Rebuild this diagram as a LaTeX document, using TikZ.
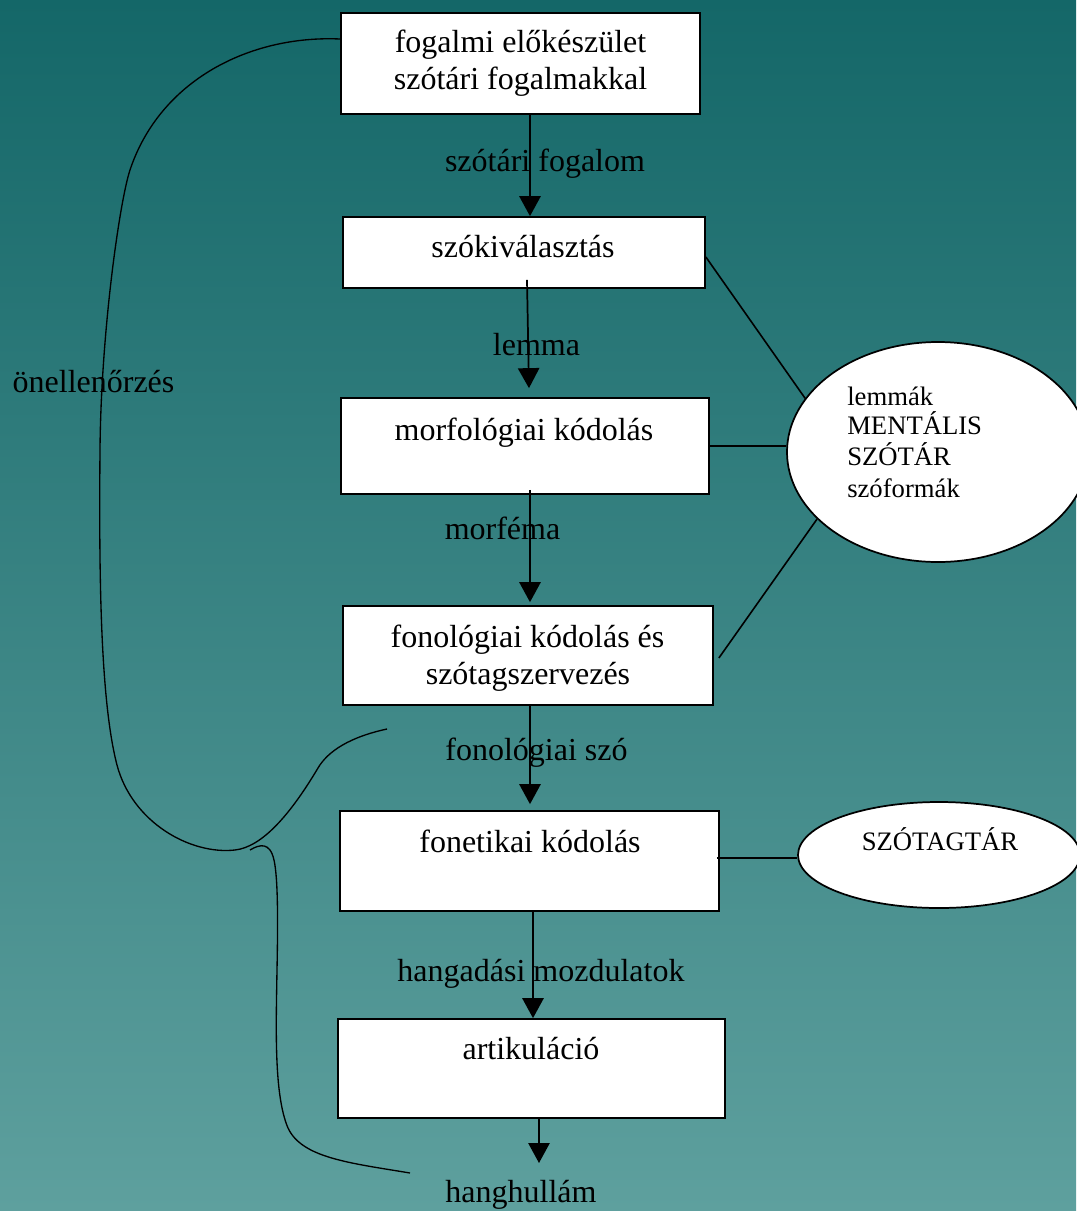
\documentclass[tikz,border=0pt]{standalone}
\usepackage{fontspec}
\setmainfont{Liberation Serif}
\usetikzlibrary{shapes.geometric,arrows.meta,calc}
\definecolor{bgtop}{RGB}{20,103,104}
\definecolor{bgbot}{RGB}{94,160,158}
\begin{document}
\begin{tikzpicture}[x=0.75pt,y=-0.75pt,
  stage/.style={draw=black, line width=1.3pt, fill=white, inner sep=0pt},
  store/.style={ellipse, draw=black, line width=1.3pt, fill=white, inner sep=0pt},
  lbl/.style={anchor=base, inner sep=0pt, font=\fontsize{24}{27.75}\selectfont},
  lexlbl/.style={anchor=base west, inner sep=0pt, font=\fontsize{20}{23}\selectfont},
  flow/.style={line width=1.3pt, -{Triangle[width=16pt,length=15pt]}},
  link/.style={line width=1.2pt},
  monitor/.style={line width=1pt, line join=round}
]
\useasboundingbox (0,0) rectangle (1076,1211);
\shade[top color=bgtop, bottom color=bgbot] (0,0) rectangle (1076,1211);

% processing stages
\node[stage, minimum width=269.25pt, minimum height=75.75pt] (b1) at (520.5,63.5) {};
\node[stage, minimum width=271.5pt, minimum height=53.25pt] (b2) at (524,252.5) {};
\node[stage, minimum width=276pt, minimum height=72pt] (b3) at (525,446) {};
\node[stage, minimum width=277.5pt, minimum height=74.25pt] (b4) at (528,655.5) {};
\node[stage, minimum width=284.25pt, minimum height=75pt] (b5) at (529.5,861) {};
\node[stage, minimum width=290.25pt, minimum height=74.25pt] (b6) at (531.5,1068.5) {};

\node[lbl] (t1a) at (520.5,52) {fogalmi előkészület};
\node[lbl] (t1b) at (520.5,89) {szótári fogalmakkal};
\node[lbl] (t2) at (523,257) {szókiválasztás};
\node[lbl] (t3) at (524,440) {morfológiai kódolás};
\node[lbl] (t4a) at (527.5,647) {fonológiai kódolás és};
\node[lbl] (t4b) at (528,684) {szótagszervezés};
\node[lbl] (t5) at (530,852) {fonetikai kódolás};
\node[lbl] (t6) at (531,1059) {artikuláció};

% lexical stores
\node[store, minimum width=226.5pt, minimum height=165pt] (e1) at (938,452) {};
\node[store, minimum width=211.5pt, minimum height=79.5pt] (e2) at (939,855) {};
\node[lexlbl] (m1) at (847,405) {lemmák};
\node[lexlbl] (m2) at (847,434) {MENTÁLIS};
\node[lexlbl] (m3) at (847,465) {SZÓTÁR};
\node[lexlbl] (m4) at (847,497) {szóformák};
\node[lbl, font=\fontsize{20}{23}\selectfont] (syl) at (940,850) {SZÓTAGTÁR};

% main flow
\coordinate (sound) at (539,1163);
\draw[flow] ($(b1.south)+(9.5,0)$) -- ($(b2.north)+(6,0)$);
\draw[flow] ($(b2.south)+(3,-9)$) -- ($(b3.north)+(4,-9)$);
\draw[flow] ($(b3.south)+(5,-5)$) -- ($(b4.north)+(2,-3)$);
\draw[flow] ($(b4.south)+(2,0)$) -- ($(b5.north)+(0.5,-6)$);
\draw[flow] ($(b5.south)+(3.5,0)$) -- ($(b6.north)+(1.5,0)$);
\draw[flow] ($(b6.south)+(7.5,0)$) -- (sound);

\node[lbl] (f1) at (545,171) {szótári fogalom};
\node[lbl] (f2) at (536.5,355) {lemma};
\node[lbl] (f3) at (502.5,539) {morféma};
\node[lbl] (f4) at (536.5,760) {fonológiai szó};
\node[lbl] (f5) at (541,981) {hangadási mozdulatok};
\node[lbl] (f6) at (521,1202) {hanghullám};

% links to the stores
\draw[link] ($(b2.east)+(0,4.5)$) -- (e1.158.6);
\draw[link] (b3.east) -- (b3.east -| e1.west);
\draw[link] ($(b4.east)+(5,2.5)$) -- (e1.209.6);
\draw[link] ($(b5.east)+(-3,-3)$) -- ($(e2.west)+(0,3)$);

% self-monitoring loops
\node[lbl] (mon) at (93.5,392) {önellenőrzés};
\coordinate (fbStart) at ($(b1.west)+(0,-24.5)$);
\coordinate (fbEnd) at (387,729);
\draw[monitor] (fbStart)
  .. controls (250,35) and (160,80) .. (130,170)
  .. controls (120,200) and (101,330) .. (100,450)
  .. controls (99,570) and (100,700) .. (117,765)
  .. controls (132,822) and (190,855) .. (235,850)
  .. controls (262,847) and (290,815) .. (318,768)
  .. controls (328,751) and (350,737) .. (fbEnd);
\coordinate (fb2Start) at (250,850);
\coordinate (fb2End) at (410,1173);
\draw[monitor] (fb2Start)
  .. controls (260,844) and (270,842) .. (274,860)
  .. controls (278,878) and (278,920) .. (277,970)
  .. controls (276,1030) and (274,1095) .. (288,1128)
  .. controls (302,1158) and (350,1163) .. (fb2End);
\end{tikzpicture}
\end{document}
